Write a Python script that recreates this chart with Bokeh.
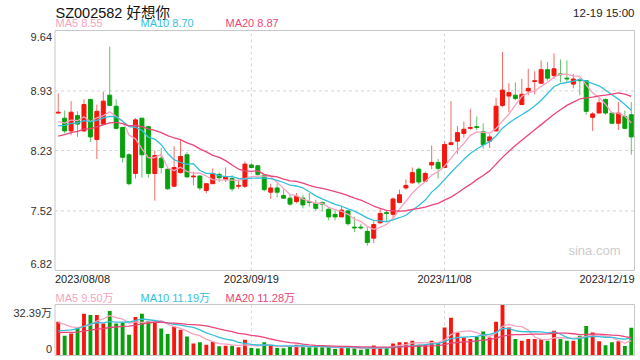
import numpy as np
from bokeh.plotting import figure
from bokeh.models import Range1d, Label, ColumnDataSource
from bokeh.layouts import column
from bokeh.embed import file_html
from bokeh.resources import INLINE

# ---------------- data ----------------
code_name = "SZ002582 好想你"
stamp = "12-19 15:00"
tick_labels = ["2023/08/08", "2023/09/19", "2023/11/08", "2023/12/19"]
tick_index = [0, 30, 60, 89]
price_ticks = [6.82, 7.52, 8.23, 8.93, 9.64]
vol_unit = "万"

open_ = [8.67, 8.61, 8.46, 8.64, 8.46, 8.83, 8.36, 8.54, 8.88, 8.75,
         8.50, 8.18, 7.96, 8.61, 8.51, 7.96, 8.14, 8.01, 7.81, 7.97,
         8.18, 7.92, 7.93, 7.76, 7.84, 7.95, 7.89, 7.90, 7.81, 7.81,
         8.06, 8.05, 7.94, 7.74, 7.79, 7.70, 7.67, 7.63, 7.67, 7.63,
         7.61, 7.62, 7.54, 7.48, 7.45, 7.52, 7.33, 7.33, 7.28, 7.20,
         7.38, 7.50, 7.48, 7.62, 7.79, 7.85, 8.01, 7.87, 8.06, 8.09,
         8.03, 8.30, 8.34, 8.43, 8.49, 8.51, 8.45, 8.34, 8.46, 8.76,
         8.87, 8.88, 8.77, 8.93, 9.04, 9.02, 9.18, 9.11, 9.13, 9.08,
         9.01, 9.06, 9.05, 8.62, 8.67, 8.83, 8.67, 8.55, 8.63, 8.65]
close = [8.68, 8.46, 8.68, 8.54, 8.77, 8.39, 8.69, 8.81, 8.76, 8.49,
         8.15, 7.84, 8.59, 8.18, 7.96, 8.17, 8.03, 7.78, 8.03, 8.16,
         7.92, 7.93, 7.79, 7.84, 7.96, 7.91, 7.92, 7.78, 7.82, 8.07,
         8.03, 7.95, 7.77, 7.79, 7.74, 7.67, 7.60, 7.69, 7.59, 7.62,
         7.55, 7.60, 7.45, 7.45, 7.53, 7.37, 7.32, 7.32, 7.15, 7.36,
         7.49, 7.49, 7.66, 7.71, 7.82, 7.97, 7.86, 7.96, 8.09, 8.02,
         8.30, 8.32, 8.44, 8.48, 8.50, 8.50, 8.30, 8.39, 8.75, 8.94,
         8.91, 8.84, 8.89, 8.96, 9.05, 9.18, 9.08, 9.19, 9.12, 9.07,
         9.07, 9.05, 8.69, 8.66, 8.79, 8.67, 8.55, 8.67, 8.49, 8.39]
high = [8.90, 8.70, 8.81, 8.69, 8.83, 8.83, 8.77, 8.92, 9.45, 8.83,
        8.51, 8.20, 8.61, 8.61, 8.52, 8.23, 8.26, 8.02, 8.28, 8.36,
        8.21, 7.98, 7.94, 7.84, 8.02, 7.97, 8.03, 7.94, 7.89, 8.10,
        8.08, 8.06, 7.95, 7.84, 7.84, 7.77, 7.71, 7.73, 7.71, 7.73,
        7.65, 7.63, 7.55, 7.54, 7.57, 7.53, 7.45, 7.37, 7.33, 7.40,
        7.54, 7.53, 7.68, 7.77, 7.89, 8.03, 8.03, 7.98, 8.29, 8.13,
        8.34, 8.81, 8.52, 8.57, 8.72, 8.63, 8.55, 8.42, 8.85, 9.39,
        9.02, 9.03, 9.07, 9.19, 9.16, 9.29, 9.27, 9.37, 9.30, 9.29,
        9.13, 9.08, 9.06, 8.68, 8.84, 8.84, 8.68, 8.80, 8.70, 8.80]
low = [8.66, 8.43, 8.41, 8.39, 8.45, 8.33, 8.13, 8.53, 8.75, 8.48,
       8.09, 7.82, 7.90, 7.91, 7.91, 7.64, 7.96, 7.77, 7.80, 7.96,
       7.91, 7.82, 7.76, 7.73, 7.84, 7.86, 7.86, 7.75, 7.78, 7.79,
       8.02, 7.93, 7.75, 7.66, 7.68, 7.66, 7.58, 7.61, 7.55, 7.57,
       7.52, 7.51, 7.41, 7.41, 7.45, 7.35, 7.27, 7.30, 7.11, 7.14,
       7.37, 7.40, 7.44, 7.61, 7.77, 7.84, 7.83, 7.86, 8.01, 7.90,
       8.03, 8.29, 8.19, 8.38, 8.47, 8.47, 8.25, 8.26, 8.46, 8.74,
       8.68, 8.82, 8.77, 8.88, 8.89, 9.02, 9.05, 9.07, 9.03, 9.03,
       8.96, 8.88, 8.65, 8.46, 8.67, 8.65, 8.55, 8.47, 8.48, 8.18]
# volume in 万 (10k shares)
volume = [21.5, 12.5, 14.0, 17.8, 26.5, 25.7, 25.7, 20.3, 28.2, 20.3,
          20.9, 13.2, 24.4, 26.5, 21.9, 20.9, 17.1, 13.6, 18.4, 16.3,
          12.1, 7.7, 8.4, 6.9, 8.8, 5.9, 6.2, 6.2, 5.2, 10.0,
          4.8, 4.4, 8.4, 6.3, 4.8, 4.6, 5.6, 6.9, 6.0, 5.2,
          5.2, 5.2, 5.6, 4.2, 5.2, 4.8, 4.6, 3.6, 4.4, 6.3,
          4.8, 5.2, 7.7, 8.4, 8.4, 9.4, 6.9, 6.9, 9.4, 8.4,
          17.8, 24.0, 14.6, 11.5, 10.4, 11.9, 15.3, 11.5, 21.5, 32.39,
          17.8, 10.4, 9.4, 10.4, 10.4, 10.4, 9.4, 15.7, 10.4, 9.4,
          9.4, 12.5, 18.8, 14.6, 9.1, 6.5, 8.4, 9.0, 6.0, 17.6]
# sessions before the first visible one (only feed the moving averages)
prior_close = [8.15, 8.20, 8.22, 8.25, 8.28, 8.30, 8.32, 8.30, 8.35, 8.43,
               8.40, 8.45, 8.50, 8.48, 8.52, 8.55, 8.50, 8.58, 8.54]
prior_volume = [12, 13, 14, 13, 14, 13, 14, 14, 14, 14,
                10, 11, 10, 11, 10.5, 18, 22, 20, 23]
ma_periods = [5, 10, 20]

# ---------------- style ----------------
RED = "#f5160d"
GREEN = "#07a10c"
RED_W = "#f46a66"
GREEN_W = "#62c266"
MA_COLORS = ["#f7a3c0", "#35bfdc", "#ec457a"]
FONT = "Liberation Sans, Noto Sans CJK SC"
GRID = "#d4d4d4"
BOX = "#c8c8c8"

n = len(close)
idx = list(range(n))


def moving(prior, vals, k):
    full = np.array(list(prior) + list(vals), dtype=float)
    out = np.convolve(full, np.ones(k) / k, mode="valid")
    return out[-len(vals):]


price_ma = [moving(prior_close, close, k) for k in ma_periods]
vol_ma = [moving(prior_volume, volume, k) for k in ma_periods]

up = [c >= o for o, c in zip(open_, close)]
src = ColumnDataSource(dict(
    x=idx, high=high, low=low,
    top=[max(o, c) for o, c in zip(open_, close)],
    bottom=[min(o, c) for o, c in zip(open_, close)],
    color=[RED if u else GREEN for u in up],
    wcolor=[RED_W if u else GREEN_W for u in up],
    vol=volume,
))

W = 640
LEFT, RIGHT = 54.5, 6        # px around the chart box
BOX_W = W - LEFT - RIGHT
PPX = BOX_W / n              # px per session
X0, X1 = -0.5, n - 0.5
LEG_X = [55, 140, 225]


def panel(height, top_px, bottom_px, y0, y1):
    box_h = height - top_px - bottom_px
    ppy = box_h / (y1 - y0)
    f = figure(width=W, height=height, output_backend="svg", toolbar_location=None,
               x_range=Range1d(X0 - LEFT / PPX, X1 + RIGHT / PPX),
               y_range=Range1d(y0 - bottom_px / ppy, y1 + top_px / ppy),
               x_axis_location=None, y_axis_location=None,
               min_border=0, background_fill_color="white",
               border_fill_color="white", outline_line_color=None)
    f.grid.visible = False
    f.segment(x0=tick_index[1:3], x1=tick_index[1:3], y0=y0, y1=y1,
              line_color=GRID, line_dash="3 3", line_width=1)
    return f


def box(f, y0, y1):
    f.quad(left=X0, right=X1, bottom=y0, top=y1, fill_color=None,
           line_color=BOX, line_width=1)


def lab(f, x, y, text, size="11px", color="#333333", align="left",
        xu="screen", yu="screen", yoff=0):
    f.add_layout(Label(x=x, y=y, x_units=xu, y_units=yu, text=text,
                       text_font=FONT, text_font_size=size, text_color=color,
                       text_align=align, text_baseline="middle", y_offset=yoff))


# ---------------- price panel (page y 0..284) ----------------
HA, TA, BA = 284, 30, 14
py0, py1 = price_ticks[0], price_ticks[-1]
pA = panel(HA, TA, BA, py0, py1)
mid = price_ticks[1:-1]
pA.segment(x0=[X0] * len(mid), x1=[X1] * len(mid), y0=mid, y1=mid,
           line_color=GRID, line_dash="3 3", line_width=1)
pA.segment(x0="x", y0="low", x1="x", y1="high", line_color="wcolor", line_width=1, source=src)
pA.vbar(x="x", width=0.62, top="top", bottom="bottom", fill_color="color",
        line_color="color", line_width=1, source=src)
for ma, col in zip(price_ma, MA_COLORS):
    pA.line(idx, ma, line_color=col, line_width=1.3)
box(pA, py0, py1)

lab(pA, 55, HA - 12, code_name, size="14.5px", color="#111111")
lab(pA, W - RIGHT, HA - 12, stamp, size="11.5px", color="#222222", align="right")
for k, (per, ma, col) in enumerate(zip(ma_periods, price_ma, MA_COLORS)):
    lab(pA, LEG_X[k], HA - 22.5, f"MA{per} {ma[-1]:.2f}", color=col)
for j, t in enumerate(price_ticks):
    off = -6 if j == len(price_ticks) - 1 else (7 if j == 0 else 0)
    lab(pA, LEFT - 3, t, f"{t:.2f}", align="right", yu="data", yoff=off)
lab(pA, W - RIGHT - 14, BA + 20, "sina.com", size="13px", color="#cccccc", align="right")
for j, (t, i) in enumerate(zip(tick_labels, tick_index)):
    if j == 0:
        xx, al = X0, "left"
    elif j == len(tick_labels) - 1:
        xx, al = X1, "right"
    else:
        xx, al = i, "center"
    lab(pA, xx, BA - 8, t, xu="data", align=al, color="#222222")

# ---------------- volume panel (page y 284..360) ----------------
vmax = max(volume)
HB, TB, BB = 76, 20, 5
pB = panel(HB, TB, BB, 0, vmax)
pB.segment(x0=[X0], x1=[X1], y0=[vmax], y1=[vmax], line_color=GRID,
           line_dash="3 3", line_width=1)
pB.vbar(x="x", width=0.6, top="vol", bottom=0, fill_color="color",
        line_color=None, source=src)
for ma, col in zip(vol_ma, MA_COLORS):
    pB.line(idx, ma, line_color=col, line_width=1.3)
box(pB, 0, vmax)

for k, (per, ma, col) in enumerate(zip(ma_periods, vol_ma, MA_COLORS)):
    lab(pB, LEG_X[k], HB - 13, f"MA{per} {ma[-1]:.2f}{vol_unit}", color=col)
lab(pB, LEFT - 3, HB - TB - 8, f"{vmax:.2f}{vol_unit}", align="right")
lab(pB, LEFT - 3, BB + 7, "0", align="right")

layout = column(pA, pB, spacing=0)
open("out.html", "w").write(file_html(layout, INLINE))
